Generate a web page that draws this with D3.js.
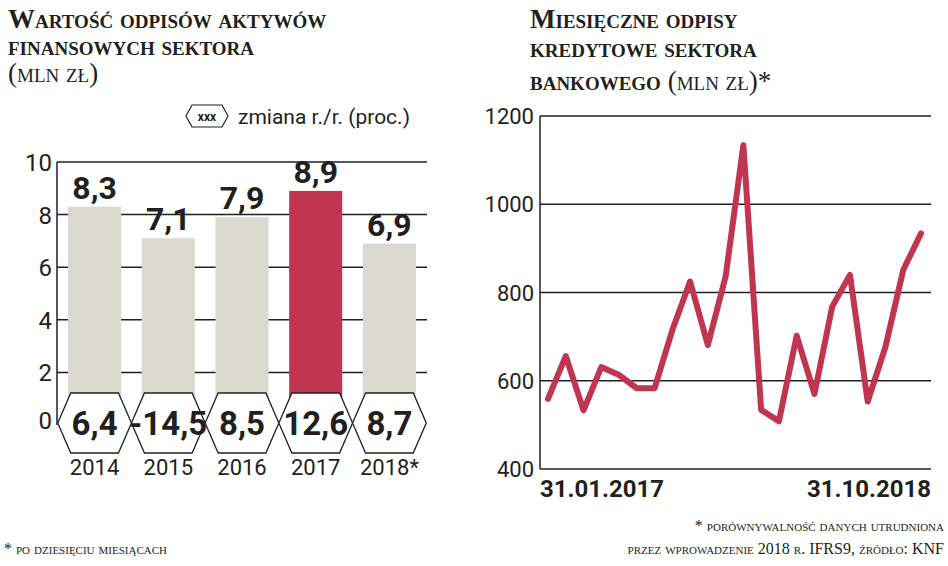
<!DOCTYPE html>
<html><head><meta charset="utf-8">
<script src="https://cdn.jsdelivr.net/npm/d3@7"></script>
<style>body{margin:0;background:#fff}svg{display:block}</style></head>
<body><svg id="c" width="948" height="566"></svg>
<script>
const years = ["2014","2015","2016","2017","2018*"];
const values = [8.3, 7.1, 7.9, 8.9, 6.9];
const valueLabels = ["8,3","7,1","7,9","8,9","6,9"];
const changeLabels = ["6,4","-14,5","8,5","12,6","8,7"];
const barTicks = [0,2,4,6,8,10];
const months = ["31.01.2017","","","","","","","","","","","","","","","","","","","","","31.10.2018"];
const monthly = [559,656,533,631,613,583,583,715,825,681,836,1134,534,508,702,570,768,840,553,677,851,934];
const lineTicks = [400,600,800,1000,1200];

(function(){
const RED="#c0354f", GREY="#d9d9cf", INK="#231f20";
const SANS="'Liberation Sans Narrow','Roboto',sans-serif";
const SERIF="'Liberation Serif','DejaVu Serif',serif";
const svg=d3.select("#c");

function title(x,lines){
  lines.forEach(([t,y,bold])=>svg.append("text").attr("x",x).attr("y",y)
    .attr("font-family",SERIF).attr("font-size",27).attr("font-weight",bold?"bold":"normal")
    .style("font-variant","small-caps").attr("fill",INK).text(t));
}
title(8,[["Wartość odpisów aktywów",28,1],["finansowych sektora",55,1],["(mln zł)",82,0]]);
title(530,[["Miesięczne odpisy",28,1],["kredytowe sektora",57,1]]);
const t3=svg.append("text").attr("x",530).attr("y",90).attr("font-family",SERIF).attr("font-size",27).style("font-variant","small-caps").attr("fill",INK);
t3.append("tspan").attr("font-weight","bold").text("bankowego ");
t3.append("tspan").text("(mln zł)*");

// bar chart
const x=d3.scaleBand().domain(years).range([57,427]).paddingInner(0.28).paddingOuter(0.15);
const y=d3.scaleLinear().domain([0,10]).range([425,162]);
const g=svg.append("g");
barTicks.forEach(t=>{
  if(t===0) return;
  g.append("line").attr("x1",57).attr("x2",427).attr("y1",y(t)).attr("y2",y(t)).attr("stroke",INK).attr("stroke-width",1.5);
  g.append("text").attr("x",52).attr("y",y(t)+9).attr("text-anchor","end").attr("font-family",SANS).attr("font-size",24).attr("fill",INK).text(t);
});
g.append("text").attr("x",52).attr("y",y(0)+4).attr("text-anchor","end").attr("font-family",SANS).attr("font-size",24).attr("fill",INK).text(0);
g.append("line").attr("x1",57).attr("x2",57).attr("y1",y(10)).attr("y2",425).attr("stroke",INK).attr("stroke-width",1.5);
g.selectAll("rect.b").data(values).join("rect").attr("x",(d,i)=>x(years[i])).attr("width",x.bandwidth())
  .attr("y",d=>y(d)).attr("height",d=>y(0)-y(d)).attr("fill",(d,i)=>i===3?RED:GREY);
g.selectAll("text.v").data(values).join("text").attr("x",(d,i)=>x(years[i])+x.bandwidth()/2).attr("y",d=>y(d)-8)
  .attr("text-anchor","middle").attr("font-family",SANS).attr("font-weight","bold").attr("font-size",32).attr("fill",INK).text((d,i)=>valueLabels[i]);
// hexagons
const step=x.step(), hTop=393, hBot=453, hMid=(hTop+hBot)/2;
changeLabels.forEach((c,i)=>{
  const cx=x(years[i])+x.bandwidth()/2, x0=cx-step/2, x1=cx+step/2;
  g.append("path").attr("d",`M${x0},${hMid}L${x0+13},${hTop}L${x1-13},${hTop}L${x1},${hMid}L${x1-13},${hBot}L${x0+13},${hBot}Z`)
    .attr("fill","#fff").attr("stroke",INK).attr("stroke-width",1.3);
  g.append("text").attr("x",cx).attr("y",hMid+12).attr("text-anchor","middle").attr("font-family",SANS).attr("font-weight","bold").attr("font-size",33).attr("fill",INK).text(c);
  g.append("text").attr("x",cx).attr("y",475).attr("text-anchor","middle").attr("font-family",SANS).attr("font-size",22).attr("fill",INK).text(years[i]);
});
// legend
svg.append("path").attr("d","M186,116L192,105L222,105L228,116L222,127L192,127Z").attr("fill","#fff").attr("stroke",INK).attr("stroke-width",1.2);
svg.append("text").attr("x",207).attr("y",121).attr("text-anchor","middle").attr("font-family",SANS).attr("font-weight","bold").attr("font-size",12).attr("fill",INK).text("xxx");
svg.append("text").attr("x",238).attr("y",124).attr("font-family",SANS).attr("font-size",21).attr("fill",INK).text("zmiana r./r. (proc.)");

// line chart
const lx=d3.scalePoint().domain(d3.range(monthly.length)).range([548,921]);
const ly=d3.scaleLinear().domain([400,1200]).range([469,116]);
const lg=svg.append("g");
lineTicks.forEach(t=>{
  lg.append("line").attr("x1",540).attr("x2",931).attr("y1",ly(t)).attr("y2",ly(t)).attr("stroke",INK).attr("stroke-width",1.3);
  lg.append("text").attr("x",534).attr("y",ly(t)+8).attr("text-anchor","end").attr("font-family",SANS).attr("font-size",22).attr("fill",INK).text(t);
});
lg.append("line").attr("x1",540).attr("x2",540).attr("y1",116).attr("y2",469).attr("stroke",INK).attr("stroke-width",1.5);
lg.append("path").datum(monthly).attr("d",d3.line().x((d,i)=>lx(i)).y(d=>ly(d)))
  .attr("fill","none").attr("stroke",RED).attr("stroke-width",6).attr("stroke-linejoin","round").attr("stroke-linecap","round");
lg.append("text").attr("x",540).attr("y",497).attr("font-family",SANS).attr("font-weight","bold").attr("font-size",24).attr("fill",INK).text(months[0]);
lg.append("text").attr("x",931).attr("y",497).attr("text-anchor","end").attr("font-family",SANS).attr("font-weight","bold").attr("font-size",24).attr("fill",INK).text(months[months.length-1]);

// footnotes
const fn=(t,xx,yy,a)=>svg.append("text").attr("x",xx).attr("y",yy).attr("text-anchor",a).attr("font-family",SERIF).attr("font-size",16).style("font-variant","small-caps").attr("fill",INK).text(t);
fn("* po dziesięciu miesiącach",4,554,"start");
fn("* porównywalność danych utrudniona",944,531,"end");
fn("przez wprowadzenie 2018 r. IFRS9, źródło: KNF",944,554,"end");
})();
</script></body></html>
